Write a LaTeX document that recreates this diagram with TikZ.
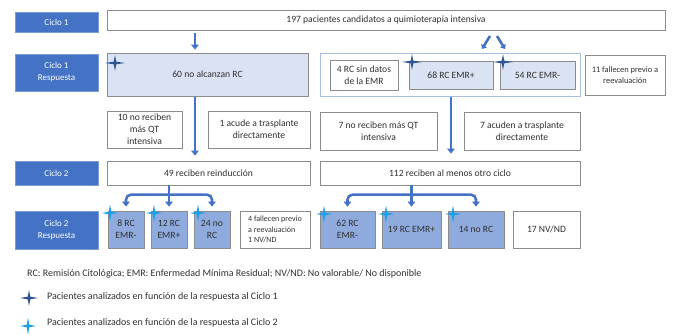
\documentclass[tikz,border=0pt]{standalone}
\usepackage{fontspec}
\setmainfont{Carlito}
\usetikzlibrary{arrows.meta}
\definecolor{labblue}{HTML}{4472C4}
\definecolor{lightfill}{HTML}{DAE3F3}
\definecolor{midfill}{HTML}{8FAADC}
\definecolor{boxgrey}{HTML}{8C8C8C}
\definecolor{grpline}{HTML}{A9BEE4}
\definecolor{arrblue}{HTML}{4472C4}
\definecolor{stardark}{HTML}{2F5597}
\definecolor{starcyan}{HTML}{1E9FE6}
\definecolor{txt}{HTML}{303030}
\newcommand\fstar[5]{%
  \fill[#1,shift={(#2,#3)}] (-#4,0) -- (-1.3,-1.3) -- (0,-#5) -- (1.3,-1.3) -- (#4,0) -- (1.3,1.3) -- (0,#5) -- (-1.3,1.3) -- cycle;}
\newcommand\mybox[7]{\node[#6,minimum width={(#4)-(#2)},minimum height={(#5)-(#3)}] (#1) at ({((#2)+(#4))/2},{((#3)+(#5))/2}) {#7};}
\begin{document}
\begin{tikzpicture}[x=1pt,y=-1pt,
  >={Triangle[width=7.5pt,length=5pt]},
  lab/.style={fill=labblue,draw=labblue!70,line width=0.6pt,text=white,align=center,inner sep=0pt,font=\fontsize{9}{12}\selectfont},
  box/.style={draw=boxgrey,line width=0.7pt,fill=white,align=center,inner sep=0pt,text=txt,font=\fontsize{9.6}{12}\selectfont},
  lbox/.style={box,fill=lightfill},
  mbox/.style={box,fill=midfill},
  grp/.style={draw=grpline,line width=0.9pt,fill=white,inner sep=0pt},
  small/.style={font=\fontsize{8.4}{10.5}\selectfont},
  smaller/.style={font=\fontsize{8}{10.5}\selectfont},
  arr/.style={draw=arrblue,line width=2.6pt,->},
  darr/.style={draw=arrblue,line width=2.6pt,-{Triangle[width=6.5pt,length=4pt]}},
  legend/.style={anchor=west,inner sep=0pt,text=txt,font=\fontsize{10}{12}\selectfont}]
\useasboundingbox (0,0) rectangle (673,333);
% left labels
\mybox{c1}{15}{12}{98}{32}{lab}{Ciclo 1}
\mybox{c1r}{15}{54}{98}{91}{lab}{Ciclo 1\\Respuesta}
\mybox{c2}{15}{161}{98}{185}{lab}{Ciclo 2}
\mybox{c2r}{15}{211}{98}{249}{lab}{Ciclo 2\\Respuesta}
% row 1
\mybox{top}{107}{10}{665}{30}{box}{197 pacientes candidatos a quimioterapia intensiva}
% row 2
\mybox{noRC}{107}{53}{308}{96}{lbox}{60 no alcanzan RC}
\mybox{grpb}{320}{53}{580}{96}{grp}{}
\mybox{sin}{330}{60}{398}{90}{box}{4 RC sin datos\\de la EMR}
\mybox{emrp}{409}{61}{493}{89}{lbox}{68 RC EMR+}
\mybox{emrm}{500}{61}{575}{89}{lbox}{54 RC EMR-}
\mybox{f11}{585}{55}{665}{95}{box,small}{11 fallecen previo a\\reevaluación}
% row 3
\mybox{nr10}{107}{111}{182}{148}{box}{10 no reciben\\más QT\\intensiva}
\mybox{tr1}{208}{111}{310}{148}{box}{1 acude a trasplante\\directamente}
\mybox{nr7}{320}{112}{437}{150}{box}{7 no reciben más QT\\intensiva}
\mybox{tr7}{464}{112}{580}{150}{box}{7 acuden a trasplante\\directamente}
% row 4
\mybox{r49}{107}{161}{310}{185}{box}{49 reciben reinducción}
\mybox{r112}{320}{161}{580}{185}{box}{112 reciben al menos otro ciclo}
% row 5
\mybox{a8}{108}{211}{144}{248}{mbox}{8 RC\\EMR-}
\mybox{a12}{151}{211}{187}{248}{mbox}{12 RC\\EMR+}
\mybox{a24}{194}{211}{230}{248}{mbox}{24 no\\RC}
\mybox{f4}{240}{211}{310}{248}{box,smaller,align=left}{4 fallecen previo\\a reevaluación\\1 NV/ND}
\mybox{b62}{320}{211}{375}{248}{mbox}{62 RC\\EMR-}
\mybox{b19}{382}{211}{441}{248}{mbox}{19 RC EMR+}
\mybox{b14}{448}{211}{504}{248}{mbox}{14 no RC}
\mybox{nv17}{513}{211}{580}{248}{box}{17 NV/ND}
% arrows
\coordinate (xa) at (195,0);
\coordinate (xb) at (451,0);
\draw[arr,shorten <=3pt,shorten >=3pt] (top.south -| xa) -- (noRC.north -| xa);
\draw[arr,shorten <=1pt,shorten >=5pt] (noRC.south -| xa) -- (r49.north -| xa);
\draw[arr,shorten <=1pt,shorten >=7pt] (grpb.south -| xb) -- (r112.north -| xb);
\coordinate (d1s) at (490,36); \coordinate (d1e) at (482,49);
\coordinate (d2s) at (497,36); \coordinate (d2e) at (505,49);
\draw[darr] (d1s) -- (d1e);
\draw[darr] (d2s) -- (d2e);
\draw[arr,<->,rounded corners=5pt,shorten <=4pt,shorten >=4pt] (a8.north) -- ++(0,-16) -| (a24.north);
\draw[arr,shorten >=4pt] (r49.south -| a12.north) -- (a12.north);
\draw[arr,<->,rounded corners=5pt,shorten <=4pt,shorten >=4pt] (b62.north) -- ++(0,-16) -| (b14.north);
\draw[arr,shorten >=4pt] (r112.south -| b19.north) -- (b19.north);
% stars
\fstar{stardark}{115}{63}{10}{8}
\fstar{stardark}{412}{62}{10}{8}
\fstar{stardark}{503}{62}{10}{8}
\fstar{starcyan}{110}{213}{8}{8.5}
\fstar{starcyan}{154}{213}{8}{8.5}
\fstar{starcyan}{198}{213}{8}{8.5}
\fstar{starcyan}{324}{214}{8}{8.5}
\fstar{starcyan}{386}{214}{8}{8.5}
\fstar{starcyan}{453}{214}{8}{8.5}
% legend
\node[legend] (leg0) at (27,274) {RC: Remisión Citológica; EMR: Enfermedad Mínima Residual; NV/ND: No valorable/ No disponible};
\fstar{stardark}{29}{298}{9}{8}
\node[legend] (leg1) at (47,297) {Pacientes analizados en función de la respuesta al Ciclo 1};
\fstar{starcyan}{28}{326}{8}{8.5}
\node[legend] (leg2) at (47,323) {Pacientes analizados en función de la respuesta al Ciclo 2};
\end{tikzpicture}
\end{document}
